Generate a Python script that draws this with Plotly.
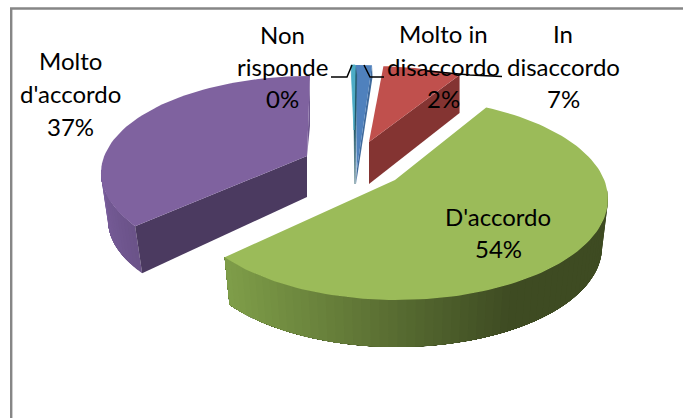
import math
import plotly.graph_objects as go

categories = ["Non risponde", "Molto in disaccordo", "In disaccordo", "D'accordo", "Molto d'accordo"]
values = [0.4, 2, 7, 54, 37]
percent_labels = ["0%", "2%", "7%", "54%", "37%"]

W, H = 683, 418
FONT = "Lato, Carlito, Calibri, sans-serif"
FS = 24


def hex2rgb(h):
    return tuple(int(h[i:i + 2], 16) for i in (1, 3, 5))


def mix(a, b, f):
    f = max(0.0, min(1.0, f))
    ra, rb = hex2rgb(a), hex2rgb(b)
    return "rgb(%d,%d,%d)" % tuple(round(x + (y - x) * f) for x, y in zip(ra, rb))


def ell(c, rx, ry, t):
    r = math.radians(t)
    return c[0] + rx * math.sin(r), c[1] - ry * math.cos(r)


fig = go.Figure()


def poly(pts, color, lw=0.0):
    xs = [p[0] for p in pts] + [pts[0][0]]
    ys = [p[1] for p in pts] + [pts[0][1]]
    fig.add_trace(go.Scatter(x=xs, y=ys, mode="lines", fill="toself", fillcolor=color,
                             line=dict(color=color, width=lw), hoverinfo="skip", showlegend=False))


def arc(c, rx, ry, t0, t1, n=60):
    return [ell(c, rx, ry, t0 + (t1 - t0) * i / n) for i in range(n + 1)]


def band(c0, rx0, ry0, c1, rx1, ry1, t0, t1, n=24):
    return arc(c0, rx0, ry0, t0, t1, n) + arc(c1, rx1, ry1, t0, t1, n)[::-1]


def sweep(value, scale):
    return value / 100 * 360 * scale


# ---- Molto d'accordo (purple)
v = values[4]
pc, prx, pry = (310, 173), 209, 97
pend = 360
pstart = pend - sweep(v, 0.925)
papex, papexb = (307, 156), (307, 197)
pbc = (317, 220)
# arc side: painted from the front corner towards the left edge, each band reaching the end
n = 16
for i in range(n):
    a = pstart + (272 - pstart) * i / n
    poly(band(pc, prx, pry, pbc, prx, pry, a, 272), mix("#6a5288", "#7a5f9c", (i + 1) / n))
# radial side
p0 = ell(pc, prx, pry, pstart)
poly([p0, papex, papexb, ell(pbc, prx, pry, pstart)], "#4b3a60")
# sliver on the right edge
pe = ell(pc, prx, pry, pend)
poly([pe, (pe[0], pe[1] + 50), papex], "#6f578f")
poly([papex] + arc(pc, prx, pry, pstart, pend), "#7f629f")

# ---- In disaccordo (red)
v = values[2]
rc, rrx, rry = (371, 162), 209, 96
rstart = 3.4
rend = rstart + sweep(v, 0.86)
rapex, rapexb = (369, 142), (369, 184)
r1 = ell(rc, rrx, rry, rend)
poly([rapex, r1, (r1[0], r1[1] + 38), rapexb], "#843432")
poly([rapex] + arc(rc, rrx, rry, rstart, rend, 20), "#c0504d")

# ---- Molto in disaccordo (blue)
v = values[1]
bc, brx, bry = (356, 162), 209, 97
bend = sweep(v, 0.61)
b1 = ell(bc, brx, bry, bend)
bapex, bapexb = (356.5, 172), (356, 184)
poly([bapex, b1, (b1[0] + 0.5, b1[1] + 12), bapexb], "#3f6a9c")
poly([bapex] + arc(bc, brx, bry, 0, bend, 8), "#4f81bd")

# ---- Non risponde (teal)
v = values[0]
tc, trx, try_ = (351, 162), 209, 97
tend = sweep(v, 0.8)
t1 = ell(tc, trx, try_, tend)
tapex, tapexb = (354, 130), (355, 184)
poly([tapex, t1, (t1[0] + 1.5, t1[1] + 10), tapexb], "#23596a", lw=0.5)
poly([tapex] + arc(tc, trx, try_, 0, tend, 3), "#4bacc6", lw=0.8)

# ---- D'accordo (green)
v = values[3]
gc, grx, gry = (397, 199), 211, 101
gbc, gbrx, gbry = (397, 247), 205, 100
gstart = 25
gend = gstart + sweep(v, 1.079)
gapex = (395, 180)
n = 60
for i in range(n):
    a = 85 + (gend - 85) * i / n
    pa = ell(gc, grx, gry, a)
    f = (515 - pa[0]) / (515 - 227)
    poly(band(gc, grx, gry, gbc, gbrx, gbry, a, gend, 40), mix("#3e4b22", "#7f9e49", f))
poly([gapex] + arc(gc, grx, gry, gstart, gend, 120), "#9bbb59")

# ---- leader lines
leaders = [
    ([331, 347, 352], [77, 77, 65]),
    ([364, 370, 384], [65, 77, 77]),
    ([427, 470, 502], [71, 75, 76.5]),
]
for xs, ys in leaders:
    fig.add_trace(go.Scatter(x=xs, y=ys, mode="lines", line=dict(color="black", width=1.5),
                             hoverinfo="skip", showlegend=False))

# ---- labels
label_lines = [
    (["Non", "risponde", percent_labels[0]], 282, [34, 66, 98]),
    (["Molto in", "disaccordo", percent_labels[1]], 443, [33, 66, 98]),
    (["In", "disaccordo", percent_labels[2]], 563, [33, 66, 98]),
    (["Molto", "d'accordo", percent_labels[4]], 70, [60, 93, 126]),
    (["D'accordo", percent_labels[3]], 498, [216, 248]),
]
ann = []
for lines, x, ys in label_lines:
    for s, y in zip(lines, ys):
        ann.append(dict(x=x, y=y, xref="x", yref="y", text=s, showarrow=False,
                        xanchor="center", yanchor="middle",
                        font=dict(family=FONT, size=FS, color="black")))

fig.update_layout(
    width=W, height=H, margin=dict(l=0, r=0, t=0, b=0),
    paper_bgcolor="white", plot_bgcolor="white", showlegend=False,
    xaxis=dict(range=[0, W], visible=False, fixedrange=True),
    yaxis=dict(range=[H, 0], visible=False, fixedrange=True),
    annotations=ann,
    shapes=[dict(type="line", xref="x", yref="y", x0=11.2, x1=11.2, y0=8, y1=H,
                 line=dict(color="#868686", width=2.4)),
            dict(type="line", xref="x", yref="y", x0=10, x1=W, y0=8.5, y1=8.5,
                 line=dict(color="#868686", width=2.4))],
)
fig.write_html("out.html", config={"displayModeBar": False},
               post_script="document.body.style.margin='0';document.documentElement.style.overflow='hidden';")
